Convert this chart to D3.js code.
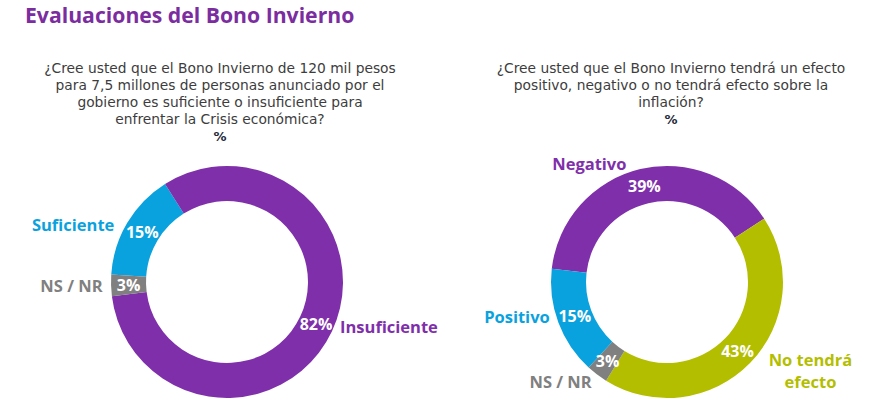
<!DOCTYPE html>
<html>
<head>
<meta charset="utf-8">
<script src="https://cdn.jsdelivr.net/npm/d3@7/dist/d3.min.js"></script>
<style>
  html, body { margin: 0; padding: 0; background: #ffffff; }
  svg { display: block; }
  text { font-family: "Open Sans", "Noto Sans", sans-serif; }
  text.question { font-family: "DejaVu Sans", sans-serif; }
</style>
</head>
<body>
<svg id="chart" width="881" height="418"></svg>
<script>
// ---------- DATA ----------
const chartTitle = "Evaluaciones del Bono Invierno";

const leftQuestion = [
  "¿Cree usted que el Bono Invierno de 120 mil pesos",
  "para 7,5 millones de personas anunciado por el",
  "gobierno es suficiente o insuficiente para",
  "enfrentar la Crisis económica?"
];
const leftCategories = ["Suficiente", "Insuficiente", "NS / NR"];
const leftValues = [15, 82, 3];

const rightQuestion = [
  "¿Cree usted que el Bono Invierno tendrá un efecto",
  "positivo, negativo o no tendrá efecto sobre la",
  "inflación?"
];
const rightCategories = ["Negativo", "No tendrá efecto", "NS / NR", "Positivo"];
const rightValues = [39, 43, 3, 15];

const unitLabel = "%";

// ---------- STYLE ----------
const colorMap = {
  "Suficiente": "#0AA2DE",
  "Positivo": "#0AA2DE",
  "Insuficiente": "#7F2FAA",
  "Negativo": "#7F2FAA",
  "NS / NR": "#808080",
  "No tendrá efecto": "#B4BE00"
};
const labelLines = {
  "No tendrá efecto": ["No tendrá", "efecto"]
};

const svg = d3.select("#chart");

svg.append("text")
  .attr("x", 25).attr("y", 23)
  .attr("font-size", 21.2).attr("font-weight", 700)
  .attr("fill", "#7B2D9F")
  .text(chartTitle);

function drawQuestion(lines, cx, y0) {
  const t = svg.append("text")
    .attr("class", "question")
    .attr("x", cx).attr("y", y0)
    .attr("text-anchor", "middle")
    .attr("font-size", 13.8)
    .attr("fill", "#3d3d3d");
  lines.forEach((l, i) => {
    t.append("tspan")
      .attr("x", cx)
      .attr("dy", i === 0 ? "0.35em" : 17)
      .text(l);
  });
  t.append("tspan")
    .attr("x", cx).attr("dy", 17)
    .attr("font-size", 13).attr("font-weight", 700)
    .attr("fill", "#1f2a3a")
    .text(unitLabel);
}

drawQuestion(leftQuestion, 220, 68);
drawQuestion(rightQuestion, 671, 68);

const outerR = 116, innerR = 81;
const deg = Math.PI / 180;

function drawDonut(cats, vals, cx, cy, startDeg, labelPlace) {
  const data = cats.map((c, i) => ({ cat: c, value: vals[i] }));
  const pie = d3.pie().sort(null).value(d => d.value)
    .startAngle(startDeg * deg).endAngle(startDeg * deg + 2 * Math.PI);
  const arc = d3.arc().innerRadius(innerR).outerRadius(outerR);
  const g = svg.append("g").attr("transform", `translate(${cx},${cy})`);
  const arcs = pie(data);
  g.selectAll("path.slice").data(arcs).join("path")
    .attr("class", "slice")
    .attr("d", arc)
    .attr("fill", d => colorMap[d.data.cat]);
  g.selectAll("text.pct").data(arcs).join("text")
    .attr("class", "pct")
    .attr("x", d => arc.centroid(d)[0])
    .attr("y", d => arc.centroid(d)[1])
    .attr("text-anchor", "middle")
    .attr("dominant-baseline", "central")
    .attr("font-size", 16).attr("font-weight", 700)
    .attr("fill", "#ffffff")
    .text(d => d.data.value + "%");
  arcs.forEach(d => {
    const p = labelPlace[d.data.cat];
    const c = arc.centroid(d);
    const lines = labelLines[d.data.cat] || [d.data.cat];
    const t = g.append("text")
      .attr("x", c[0] + p.dx)
      .attr("y", c[1] + p.dy)
      .attr("text-anchor", p.anchor)
      .attr("font-size", 16.5).attr("font-weight", 700)
      .attr("fill", colorMap[d.data.cat]);
    lines.forEach((l, i) => {
      t.append("tspan")
        .attr("x", c[0] + p.dx)
        .attr("dy", i === 0 ? "0.35em" : 22)
        .text(l);
    });
  });
}

drawDonut(leftCategories, leftValues, 227, 282, -86.3, {
  "Suficiente": { dx: -28, dy: -7, anchor: "end" },
  "Insuficiente": { dx: 24, dy: 3, anchor: "start" },
  "NS / NR": { dx: -26, dy: 1, anchor: "end" }
});

drawDonut(rightCategories, rightValues, 667, 282, -83.5, {
  "Negativo": { dx: -55, dy: -22, anchor: "middle" },
  "No tendrá efecto": { dx: 73, dy: 9, anchor: "middle" },
  "NS / NR": { dx: -47, dy: 22, anchor: "middle" },
  "Positivo": { dx: -25, dy: 1, anchor: "end" }
});
</script>
</body>
</html>
